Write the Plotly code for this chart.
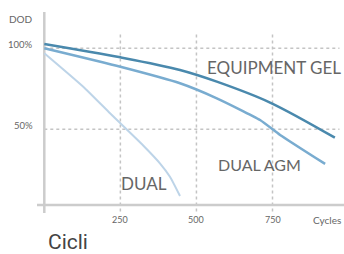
import plotly.graph_objects as go

# Data (cycles, DOD %)
gel_cycles = [0, 250, 446, 567, 742, 955]
gel_dod = [102.7, 94.4, 86.6, 79.4, 66.5, 44.8]

agm_cycles = [0, 250, 446, 567, 709, 775, 923]
agm_dod = [100.0, 88.6, 78.4, 69.1, 55.7, 46.5, 28.6]

dual_cycles = [0, 128, 216, 250, 325, 380, 413, 446]
dual_dod = [97.0, 76.3, 59.9, 53.7, 40.0, 29.0, 20.7, 8.8]

x_ticks = [250, 500, 750]
x_tick_labels = ["250", "500", "750"]
y_ticks = [50, 100]
y_tick_labels = ["50%", "100%"]

C_GEL = "#4a89ad"
C_AGM = "#79acd0"
C_DUAL = "#bdd4e8"
GRID = "#c4c4c4"
AXIS = "#cccccc"
TXT = "#444444"
TICK = "#666666"
FONT = "Lato"

fig = go.Figure()
fig.add_trace(go.Scatter(x=dual_cycles, y=dual_dod, mode="lines",
                         line=dict(color=C_DUAL, width=2, shape="spline", smoothing=0.5)))
fig.add_trace(go.Scatter(x=agm_cycles, y=agm_dod, mode="lines",
                         line=dict(color=C_AGM, width=2.5, shape="spline", smoothing=0.5)))
fig.add_trace(go.Scatter(x=gel_cycles, y=gel_dod, mode="lines",
                         line=dict(color=C_GEL, width=2.5, shape="spline", smoothing=0.9)))

XMIN, XMAX = -24, 985
YMIN, YMAX = -1.7, 122.4
X_AXIS_Y = 3.3

shapes = []
# dotted grid
for xv in x_ticks:
    shapes.append(dict(type="line", x0=xv, x1=xv, y0=X_AXIS_Y - 4, y1=109.5,
                       line=dict(color=GRID, width=1.5, dash="dot"), layer="below"))
for yv in y_ticks:
    shapes.append(dict(type="line", x0=0, x1=970, y0=yv, y1=yv,
                       line=dict(color=GRID, width=1.5, dash="dot"), layer="below"))
# axes
shapes.append(dict(type="line", x0=0, x1=0, y0=YMIN, y1=YMAX,
                   line=dict(color=AXIS, width=2.5), layer="below"))
shapes.append(dict(type="line", x0=XMIN, x1=XMAX, y0=X_AXIS_Y, y1=X_AXIS_Y,
                   line=dict(color=AXIS, width=2.5), layer="below"))

annotations = []
for xv, lab in zip(x_ticks, x_tick_labels):
    annotations.append(dict(x=xv, y=X_AXIS_Y, yshift=-15, text=lab, showarrow=False,
                            font=dict(family=FONT, size=9, color=TICK)))
annotations.append(dict(xref="paper", x=1, xanchor="right", xshift=-1, y=X_AXIS_Y, yshift=-15,
                        text="Cycles", showarrow=False,
                        font=dict(family=FONT, size=10, color=TICK)))
for yv, lab in zip(y_ticks, y_tick_labels):
    annotations.append(dict(xref="paper", x=-0.005, xanchor="right", y=yv, yshift=4,
                            text=lab, showarrow=False,
                            font=dict(family=FONT, size=9.5, color=TICK)))
annotations.append(dict(xref="paper", x=-0.006, xanchor="right", y=YMAX, yshift=-7,
                        text="DOD", showarrow=False,
                        font=dict(family=FONT, size=10, color=TICK)))
annotations.append(dict(x=755, y=100, yshift=-19, text="EQUIPMENT GEL", showarrow=False,
                        font=dict(family=FONT, size=17, color=TICK)))
annotations.append(dict(x=708, y=50, yshift=-35, text="DUAL AGM", showarrow=False,
                        font=dict(family=FONT, size=16, color=TICK)))
annotations.append(dict(x=328, y=50, yshift=-54, text="DUAL", showarrow=False,
                        font=dict(family=FONT, size=17, color=TICK)))
annotations.append(dict(xref="paper", yref="paper", x=0.03, xanchor="left", y=0, yanchor="top",
                        yshift=-15, text="Cicli", showarrow=False,
                        font=dict(family="Roboto", size=21, color=TXT)))

fig.update_layout(
    width=344, height=254,
    margin=dict(l=37, r=0, t=12, b=41),
    paper_bgcolor="white", plot_bgcolor="white",
    showlegend=False,
    xaxis=dict(range=[XMIN, XMAX], visible=False, fixedrange=True),
    yaxis=dict(range=[YMIN, YMAX], visible=False, fixedrange=True),
    shapes=shapes, annotations=annotations,
)

fig.write_html("out.html", config={"displayModeBar": False},
               post_script="document.body.style.margin='0';document.body.style.overflow='hidden';")
